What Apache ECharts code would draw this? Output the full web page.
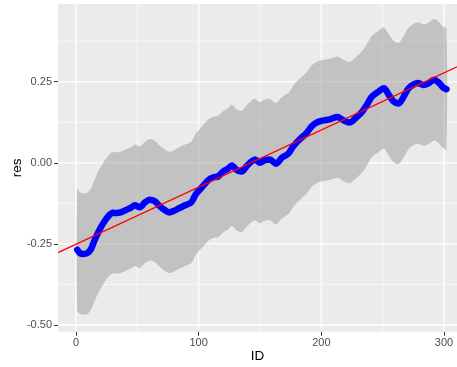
<!DOCTYPE html>
<html><head><meta charset="utf-8">
<script src="https://cdn.jsdelivr.net/npm/echarts@6/dist/echarts.min.js"></script>
<style>html,body{margin:0;padding:0;background:#fff}#c{width:457px;height:367px}</style>
</head><body><div id="c"></div>
<script>
const ids = [1,3,6,9,12,15,19,23,27,30,33,37,41,45,48,52,56,60,64,68,72,76,80,84,89,94,98,103,108,112,116,120,124,127,131,135,139,143,146,150,154,158,163,168,173,177,182,188,192,196,201,207,213,218,223,228,233,237,241,246,251,255,259,263,267,271,275,279,283,287,292,296,299,302];
const res = [-0.268,-0.278,-0.281,-0.279,-0.268,-0.240,-0.208,-0.182,-0.162,-0.154,-0.155,-0.152,-0.145,-0.138,-0.131,-0.137,-0.123,-0.114,-0.118,-0.133,-0.145,-0.153,-0.148,-0.140,-0.131,-0.122,-0.095,-0.074,-0.053,-0.045,-0.042,-0.027,-0.018,-0.008,-0.022,-0.027,-0.011,0.004,0.010,0.000,0.008,0.010,-0.003,0.016,0.028,0.050,0.071,0.092,0.112,0.124,0.130,0.134,0.141,0.131,0.124,0.138,0.156,0.178,0.203,0.218,0.230,0.209,0.189,0.183,0.203,0.229,0.241,0.246,0.240,0.244,0.256,0.246,0.233,0.227];
const upper = [-0.081,-0.091,-0.094,-0.092,-0.081,-0.053,-0.021,0.005,0.025,0.033,0.032,0.035,0.042,0.049,0.056,0.050,0.064,0.073,0.069,0.054,0.042,0.034,0.039,0.047,0.056,0.065,0.092,0.113,0.134,0.142,0.145,0.160,0.169,0.179,0.165,0.160,0.176,0.191,0.197,0.187,0.195,0.197,0.184,0.203,0.215,0.237,0.258,0.279,0.299,0.311,0.317,0.321,0.328,0.318,0.311,0.325,0.343,0.365,0.390,0.405,0.417,0.396,0.376,0.370,0.390,0.416,0.428,0.433,0.427,0.431,0.443,0.433,0.420,0.414];
const lower = [-0.455,-0.465,-0.468,-0.466,-0.455,-0.427,-0.395,-0.369,-0.349,-0.341,-0.342,-0.339,-0.332,-0.325,-0.318,-0.324,-0.310,-0.301,-0.305,-0.320,-0.332,-0.340,-0.335,-0.327,-0.318,-0.309,-0.282,-0.261,-0.240,-0.232,-0.229,-0.214,-0.205,-0.195,-0.209,-0.214,-0.198,-0.183,-0.177,-0.187,-0.179,-0.177,-0.190,-0.171,-0.159,-0.137,-0.116,-0.095,-0.075,-0.063,-0.057,-0.053,-0.046,-0.056,-0.063,-0.049,-0.031,-0.009,0.016,0.031,0.043,0.022,0.002,-0.004,0.016,0.042,0.054,0.059,0.053,0.057,0.069,0.059,0.046,0.040];
const xTicks = [0,100,200,300];
const xMinor = [50,150,250];
const yTicks = [-0.5,-0.25,0,0.25];
const yMinor = [-0.375,-0.125,0.125,0.375];
const fitIntercept = -0.251;
const fitSlope = 0.00176;

const X_MIN = -14.67, X_MAX = 310.6, Y_MIN = -0.5207, Y_MAX = 0.4895;

const gridData = [].concat(
  xMinor.map(v => [0, v, 0]), yMinor.map(v => [1, v, 0]),
  xTicks.map(v => [0, v, 1]), yTicks.map(v => [1, v, 1])
);

const chart = echarts.init(document.getElementById('c'), null, {renderer: 'canvas'});
const font = "'Liberation Sans', Arial, sans-serif";
chart.setOption({
  animation: false,
  grid: {left: 58, right: 0, top: 4, bottom: 35.3, show: true, backgroundColor: '#EBEBEB', borderWidth: 0,
    containLabel: false, outerBoundsMode: 'none'},
  xAxis: {
    type: 'value', min: X_MIN, max: X_MAX, position: 'bottom',
    splitLine: {show: false}, axisLine: {show: false, onZero: false},
    axisTick: {show: true, length: 4, lineStyle: {color: '#333333', width: 1}, customValues: xTicks},
    axisLabel: {customValues: xTicks, color: '#4D4D4D', fontSize: 11, margin: 6, fontFamily: font},
    name: 'ID', nameLocation: 'middle', nameGap: 18, nameMoveOverlap: false,
    nameTextStyle: {color: '#000', fontSize: 13.5, fontFamily: font}
  },
  yAxis: {
    type: 'value', min: Y_MIN, max: Y_MAX, position: 'left',
    splitLine: {show: false}, axisLine: {show: false, onZero: false},
    axisTick: {show: true, length: 4, lineStyle: {color: '#333333', width: 1}, customValues: yTicks},
    axisLabel: {customValues: yTicks, color: '#4D4D4D', fontSize: 11, margin: 6, fontFamily: font,
      formatter: v => v.toFixed(2)},
    name: 'res', nameLocation: 'middle', nameGap: 34, nameRotate: 90, nameMoveOverlap: false,
    nameTextStyle: {color: '#000', fontSize: 13.5, fontFamily: font}
  },
  series: [
    {
      type: 'custom', z: 1, silent: true, data: gridData,
      renderItem: (params, api) => {
        const isY = api.value(0) === 1, v = api.value(1), major = api.value(2) === 1;
        let p1, p2;
        if (isY) { p1 = api.coord([X_MIN, v]); p2 = api.coord([X_MAX, v]); }
        else { p1 = api.coord([v, Y_MIN]); p2 = api.coord([v, Y_MAX]); }
        return {type: 'line', shape: {x1: p1[0], y1: p1[1], x2: p2[0], y2: p2[1]},
          style: {stroke: '#FFFFFF', lineWidth: major ? 1.3 : 0.65}};
      }
    },
    {
      type: 'custom', z: 2, silent: true, data: [[0, 0]],
      renderItem: (params, api) => {
        const pts = [];
        for (let i = 0; i < ids.length; i++) pts.push(api.coord([ids[i], upper[i]]));
        for (let i = ids.length - 1; i >= 0; i--) pts.push(api.coord([ids[i], lower[i]]));
        return {type: 'polygon', shape: {points: pts, smooth: 0.3}, style: {fill: 'rgba(153,153,153,0.5)'}};
      }
    },
    {
      type: 'line', z: 3, silent: true, showSymbol: false, smooth: 0.3,
      data: ids.map((x, i) => [x, res[i]]),
      lineStyle: {color: '#0000FF', width: 6.5, cap: 'round', join: 'round'}
    },
    {
      type: 'line', z: 4, silent: true, showSymbol: false, clip: true,
      data: [[X_MIN, fitIntercept + fitSlope * X_MIN], [X_MAX, fitIntercept + fitSlope * X_MAX]],
      lineStyle: {color: '#FF0000', width: 1.3}
    }
  ]
});
</script>
</body></html>
